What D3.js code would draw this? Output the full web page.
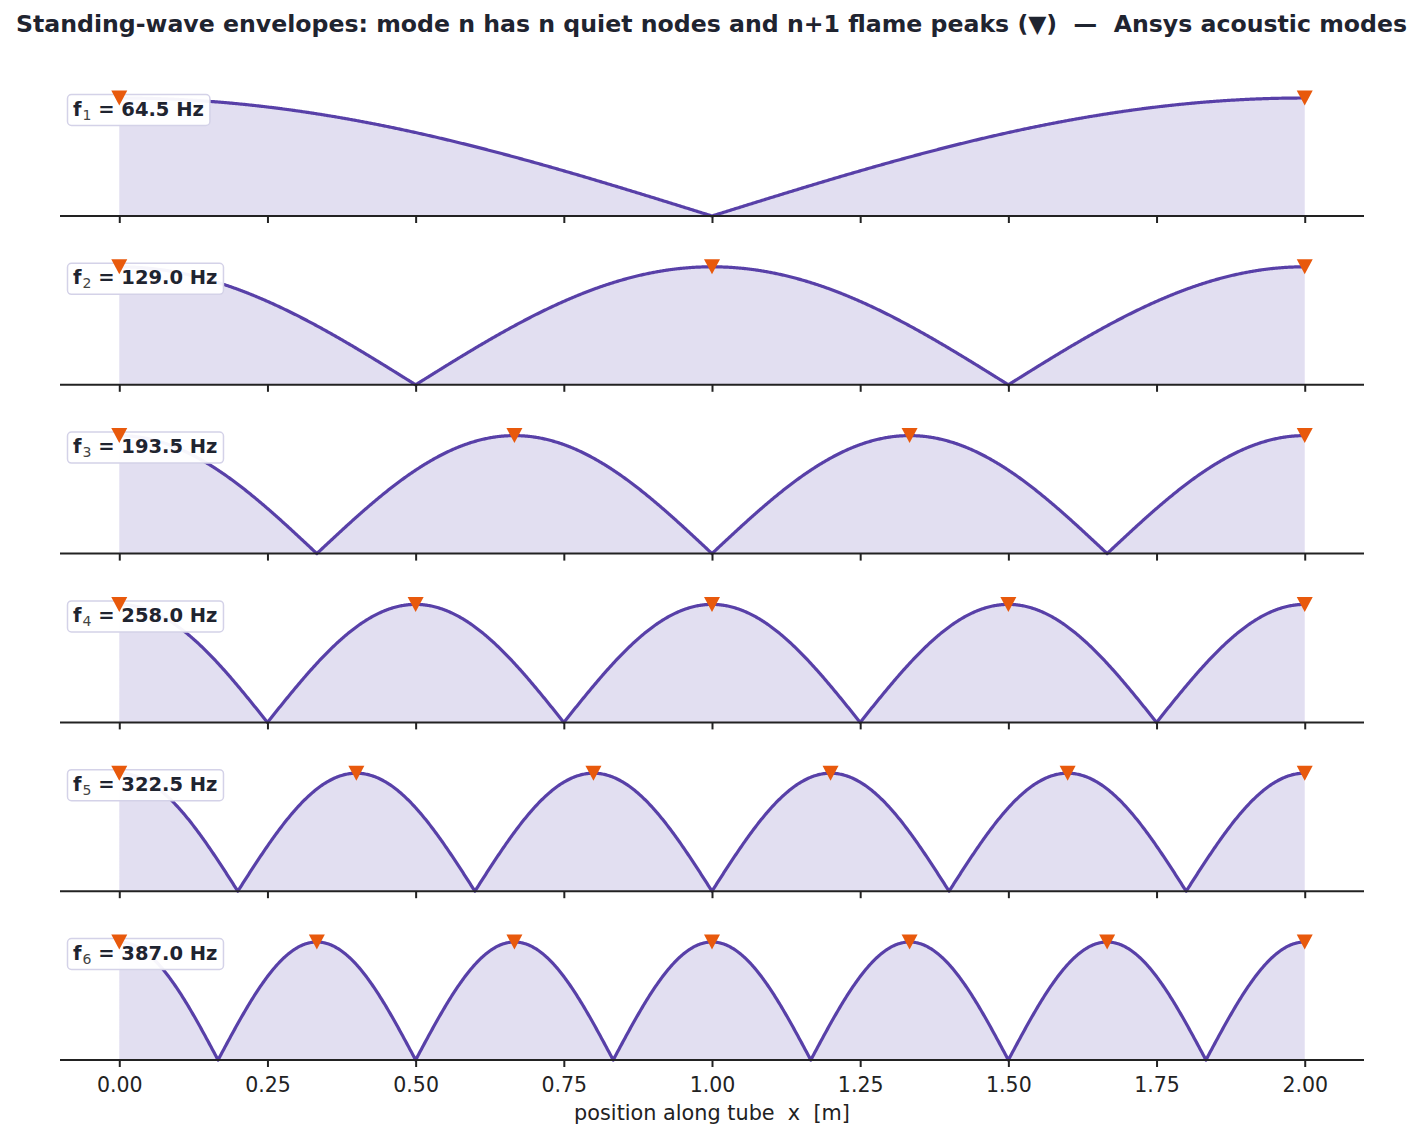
<!DOCTYPE html>
<html>
<head>
<meta charset="utf-8">
<script src="https://cdn.jsdelivr.net/npm/d3@7"></script>
<style>
  body { margin: 0; background: #fff; }
  svg { display: block; font-family: "DejaVu Sans", sans-serif; }
  svg text { white-space: pre; }
</style>
</head>
<body>
<div class="chart-section"></div>
<script>
const modes = [1, 2, 3, 4, 5, 6];
const freqs = [64.5, 129.0, 193.5, 258.0, 322.5, 387.0];
const tubeLength = 2.0;
const xTicks = [0, 0.25, 0.5, 0.75, 1.0, 1.25, 1.5, 1.75, 2.0];

const width = 1423;
const height = 1141;

const colors = {
  line: "#5840a8",
  fill: "#e2dff1",
  peak: "#e8590c",
  ink: "#1f2430",
  axis: "#222222",
  box: "#d4d2e8",
};

const svg = d3
  .select(".chart-section")
  .append("svg")
  .attr("viewBox", [0, 0, width, height])
  .attr("width", width)
  .attr("height", height);

const x = d3.scaleLinear().domain([-0.1, 2.1]).range([60, 1364]);

// panel baselines and envelope height
const firstBase = 216;
const step = 168.8;
const amp = 118;

// title, scaled to the reference width
const title = svg
  .append("text")
  .attr("x", width / 2)
  .attr("y", 32)
  .attr("text-anchor", "middle")
  .attr("font-weight", "bold")
  .attr("font-size", 22)
  .attr("fill", colors.ink)
  .text("Standing-wave envelopes: mode n has n quiet nodes and n+1 flame peaks (\u25BC)  \u2014  Ansys acoustic modes");
const tLen = title.node().getComputedTextLength();
title.attr("font-size", (22 * 1392) / tLen);

const envelope = (n, xv) => Math.abs(Math.cos((n * Math.PI * xv) / tubeLength));

modes.forEach((n, i) => {
  const base = firstBase + i * step;
  const y = d3.scaleLinear().domain([0, 1]).range([base, base - amp]);
  const g = svg.append("g");

  const samples = d3.range(0, 1201).map((k) => (k / 1200) * tubeLength);
  // make sure nodes are hit exactly
  const nodes = d3.range(n).map((k) => ((2 * k + 1) * tubeLength) / (2 * n));
  const pts = samples.concat(nodes).sort((a, b) => a - b).map((xv) => [xv, envelope(n, xv)]);

  g.append("path")
    .attr("d", d3.area().x((d) => x(d[0])).y0(y(0)).y1((d) => y(d[1]))(pts))
    .attr("fill", colors.fill);

  g.append("path")
    .attr("d", d3.line().x((d) => x(d[0])).y((d) => y(d[1]))(pts))
    .attr("fill", "none")
    .attr("stroke", colors.line)
    .attr("stroke-width", 3.2)
    .attr("stroke-linejoin", "round");

  // x axis for this panel
  const axis = g
    .append("g")
    .attr("transform", `translate(0,${base})`)
    .call(
      d3.axisBottom(x)
        .tickValues(xTicks)
        .tickSize(7)
        .tickPadding(10)
        .tickFormat(i === modes.length - 1 ? d3.format(".2f") : "")
    );
  axis.select(".domain").attr("d", `M${x(-0.1)},0H${x(2.1)}`).attr("stroke", colors.axis).attr("stroke-width", 2);
  axis.selectAll(".tick line").attr("stroke", colors.axis).attr("stroke-width", 2);
  axis.selectAll(".tick text")
    .attr("font-size", 20.5)
    .attr("font-family", "DejaVu Sans, sans-serif")
    .attr("fill", colors.axis);

  // label box
  const label = g.append("g");
  const box = label.append("rect");
  const txt = label
    .append("text")
    .attr("x", 73)
    .attr("y", base - 100.5)
    .attr("font-size", 19.5)
    .attr("font-weight", "bold")
    .attr("fill", colors.ink);
  txt.append("tspan").text("f");
  txt.append("tspan")
    .attr("font-size", 14)
    .attr("font-weight", "normal")
    .attr("fill", "#444")
    .attr("dx", 1)
    .attr("dy", 4)
    .text(n);
  txt.append("tspan").attr("dy", -4).text(` = ${freqs[i].toFixed(1)} Hz`);
  const bb = txt.node().getBBox();
  box
    .attr("x", 67.5)
    .attr("y", base - 121.5)
    .attr("width", bb.x + bb.width - 67.5 + 6)
    .attr("height", 31)
    .attr("rx", 4)
    .attr("fill", "#fff")
    .attr("fill-opacity", 0.95)
    .attr("stroke", colors.box)
    .attr("stroke-width", 1.5);

  // flame peaks
  const peaks = d3.range(n + 1).map((k) => (k * tubeLength) / n);
  g.selectAll(".peak")
    .data(peaks)
    .join("path")
    .attr("class", "peak")
    .attr("transform", (d) => `translate(${x(d)},${y(1)})`)
    .attr("d", "M-8,-7.5L8,-7.5L0,7.5Z")
    .attr("fill", colors.peak);
});

svg
  .append("text")
  .attr("x", x(1))
  .attr("y", 1120)
  .attr("text-anchor", "middle")
  .attr("font-size", 20.8)
  .attr("fill", colors.axis)
  .text("position along tube  x  [m]");
</script>
</body>
</html>
